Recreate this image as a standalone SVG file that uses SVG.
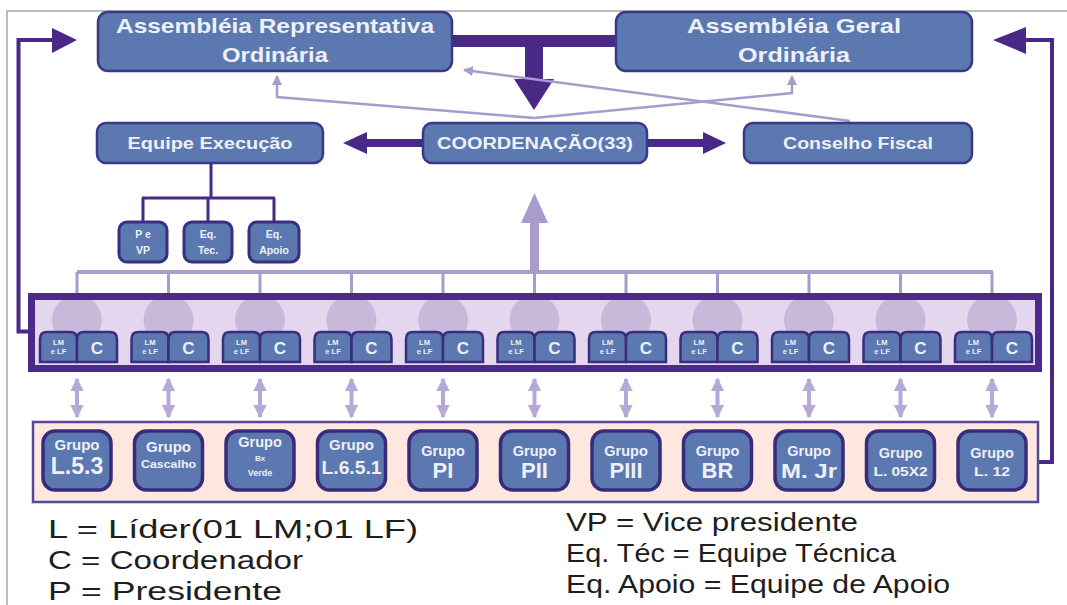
<svg xmlns="http://www.w3.org/2000/svg" width="1067" height="605" viewBox="0 0 1067 605">
<defs>
<style>
.box{fill:#5b78b0;stroke:#3b3886;stroke-width:2.5}
.sbox{fill:#5b78b0;stroke:#3a2f7e;stroke-width:3}
.gbox{fill:#5b78b0;stroke:#382c7a;stroke-width:3.5}
.ubox{fill:#5b78b0;stroke:#3a2d7c;stroke-width:2.5}
.t{font-family:"Liberation Sans",Arial,sans-serif;font-weight:bold;fill:#eef0f7;text-anchor:middle}
.lg{font-family:"Liberation Sans",Arial,sans-serif;font-size:25px;fill:#1e1e1e}
.dark{fill:#4a2886}
.dline{stroke:#4a2886;fill:none}
.light{stroke:#a99ccd;fill:none}
.lfill{fill:#a99ccd}
.circ{fill:#c8b9da}
</style>
<marker id="la" viewBox="0 0 10 10" refX="9" refY="5" markerWidth="4" markerHeight="4" orient="auto-start-reverse" markerUnits="strokeWidth">
<path d="M0 0 L10 5 L0 10 Z" fill="#a99ccd"/>
</marker>
<marker id="da" viewBox="0 0 10 10" refX="9" refY="5" markerWidth="3.4" markerHeight="3.4" orient="auto-start-reverse" markerUnits="strokeWidth">
<path d="M0 0 L10 5 L0 10 Z" fill="#b6a9d8"/>
</marker>
</defs>
<rect width="1067" height="605" fill="#ffffff"/>
<path d="M7 605 V11 H1067" stroke="#a8a8a8" stroke-width="1.5" fill="none"/>

<g id="connectors">
<rect x="450" y="35" width="170" height="12" class="dark"/>
<rect x="525" y="41" width="18" height="40" class="dark"/>
<polygon points="514,79 554,79 534,110" class="dark"/>
<path d="M534 118 L277 97 L277 76" class="light" stroke-width="2.5" marker-end="url(#la)"/>
<path d="M534 118 L792 93 L792 76" class="light" stroke-width="2.5" marker-end="url(#la)"/>
<path d="M850 121 L464 70" class="light" stroke-width="2.5" marker-end="url(#la)"/>
<path d="M423 143 H362" class="dline" stroke-width="8"/>
<polygon points="367,132 367,154 343,143" class="dark"/>
<path d="M647 143 H708" class="dline" stroke-width="8"/>
<polygon points="703,132 703,154 726,143" class="dark"/>
<path d="M211 163 V198 M142 198 H275 M143 198 V222 M208 198 V222 M274 198 V222" class="dline" stroke-width="3"/>
<rect x="530" y="218" width="9" height="54" class="lfill"/>
<polygon points="521,223 548,223 534.5,193" class="lfill"/>
<path d="M77 272 H993" class="light" stroke-width="4"/>
<path d="M77 272 V296 M168.5 272 V296 M260 272 V296 M351.5 272 V296 M443 272 V296 M534.5 272 V296 M626 272 V296 M717.5 272 V296 M809 272 V296 M900.5 272 V296 M992 272 V296" class="light" stroke-width="3"/>
<path d="M30 331.5 H18.5 V40 H56" class="dline" stroke-width="4"/>
<polygon points="52,28 52,53 77,40" class="dark"/>
<path d="M1038 462 H1052 V40 H1022" class="dline" stroke-width="4"/>
<polygon points="1026,27 1026,54 993,40" class="dark"/>
<g stroke="#b6a9d8" stroke-width="4" marker-start="url(#da)" marker-end="url(#da)">
<line x1="77" y1="379" x2="77" y2="417"/>
<line x1="168.5" y1="379" x2="168.5" y2="417"/>
<line x1="260" y1="379" x2="260" y2="417"/>
<line x1="351.5" y1="379" x2="351.5" y2="417"/>
<line x1="443" y1="379" x2="443" y2="417"/>
<line x1="534.5" y1="379" x2="534.5" y2="417"/>
<line x1="626" y1="379" x2="626" y2="417"/>
<line x1="717.5" y1="379" x2="717.5" y2="417"/>
<line x1="809" y1="379" x2="809" y2="417"/>
<line x1="900.5" y1="379" x2="900.5" y2="417"/>
<line x1="992" y1="379" x2="992" y2="417"/>
</g>
</g>

<g id="aro">
<rect x="98" y="12" width="354" height="59" rx="10" class="box"/>
<text x="275" y="33" class="t" font-size="21" textLength="318" lengthAdjust="spacingAndGlyphs">Assembléia Representativa</text>
<text x="275" y="62" class="t" font-size="21" textLength="106" lengthAdjust="spacingAndGlyphs">Ordinária</text>
</g>
<g id="ago">
<rect x="616" y="12" width="356" height="59" rx="10" class="box"/>
<text x="794" y="33" class="t" font-size="21" textLength="214" lengthAdjust="spacingAndGlyphs">Assembléia Geral</text>
<text x="794" y="62" class="t" font-size="21" textLength="112" lengthAdjust="spacingAndGlyphs">Ordinária</text>
</g>
<g id="equipe">
<rect x="97" y="123" width="226" height="40" rx="9" class="box"/>
<text x="210" y="149" class="t" font-size="16" textLength="165" lengthAdjust="spacingAndGlyphs">Equipe Execução</text>
</g>
<g id="coordenacao">
<rect x="423" y="123" width="224" height="40" rx="9" class="box"/>
<text x="535" y="149" class="t" font-size="16" textLength="196" lengthAdjust="spacingAndGlyphs">COORDENAÇÃO(33)</text>
</g>
<g id="conselho">
<rect x="744" y="123" width="228" height="40" rx="9" class="box"/>
<text x="858" y="149" class="t" font-size="16" textLength="150" lengthAdjust="spacingAndGlyphs">Conselho Fiscal</text>
</g>
<g id="pevp">
<rect x="119" y="222" width="48" height="40" rx="8" class="sbox"/>
<text x="143" y="238" class="t" font-size="10.5">P e</text>
<text x="143" y="254" class="t" font-size="10.5">VP</text>
</g>
<g id="eqtec">
<rect x="184" y="222" width="48" height="40" rx="8" class="sbox"/>
<text x="208" y="238" class="t" font-size="10.5">Eq.</text>
<text x="208" y="254" class="t" font-size="10.5">Tec.</text>
</g>
<g id="eqapoio">
<rect x="249" y="222" width="50" height="40" rx="8" class="sbox"/>
<text x="274" y="238" class="t" font-size="10.5">Eq.</text>
<text x="274" y="254" class="t" font-size="10.5">Apoio</text>
</g>

<g id="lideres">
<rect x="31.5" y="296.5" width="1007" height="72" fill="#e4d6ee"/>
<g class="circ">
<circle cx="77" cy="320" r="25"/><circle cx="168.5" cy="320" r="25"/><circle cx="260" cy="320" r="25"/><circle cx="351.5" cy="320" r="25"/><circle cx="443" cy="320" r="25"/><circle cx="534.5" cy="320" r="25"/><circle cx="626" cy="320" r="25"/><circle cx="717.5" cy="320" r="25"/><circle cx="809" cy="320" r="25"/><circle cx="900.5" cy="320" r="25"/><circle cx="992" cy="320" r="25"/>
</g>
<rect x="31.5" y="296.5" width="1007" height="72" fill="none" stroke="#4c2a8c" stroke-width="7"/>
</g>

<g id="u1" transform="translate(77 0)"><path d="M-37 362 V339 Q-37 332 -30 332 H-7 Q0 332 0 339 V362 Z" class="ubox"/><path d="M0 362 V339 Q0 332 7 332 H33 Q40 332 40 339 V362 Z" class="ubox"/><text x="-18.5" y="345" class="t" font-size="7.5">LM</text><text x="-18.5" y="354" class="t" font-size="7.5">e LF</text><text x="20" y="354" class="t" font-size="17">C</text></g>
<g id="u2" transform="translate(168.5 0)"><path d="M-37 362 V339 Q-37 332 -30 332 H-7 Q0 332 0 339 V362 Z" class="ubox"/><path d="M0 362 V339 Q0 332 7 332 H33 Q40 332 40 339 V362 Z" class="ubox"/><text x="-18.5" y="345" class="t" font-size="7.5">LM</text><text x="-18.5" y="354" class="t" font-size="7.5">e LF</text><text x="20" y="354" class="t" font-size="17">C</text></g>
<g id="u3" transform="translate(260 0)"><path d="M-37 362 V339 Q-37 332 -30 332 H-7 Q0 332 0 339 V362 Z" class="ubox"/><path d="M0 362 V339 Q0 332 7 332 H33 Q40 332 40 339 V362 Z" class="ubox"/><text x="-18.5" y="345" class="t" font-size="7.5">LM</text><text x="-18.5" y="354" class="t" font-size="7.5">e LF</text><text x="20" y="354" class="t" font-size="17">C</text></g>
<g id="u4" transform="translate(351.5 0)"><path d="M-37 362 V339 Q-37 332 -30 332 H-7 Q0 332 0 339 V362 Z" class="ubox"/><path d="M0 362 V339 Q0 332 7 332 H33 Q40 332 40 339 V362 Z" class="ubox"/><text x="-18.5" y="345" class="t" font-size="7.5">LM</text><text x="-18.5" y="354" class="t" font-size="7.5">e LF</text><text x="20" y="354" class="t" font-size="17">C</text></g>
<g id="u5" transform="translate(443 0)"><path d="M-37 362 V339 Q-37 332 -30 332 H-7 Q0 332 0 339 V362 Z" class="ubox"/><path d="M0 362 V339 Q0 332 7 332 H33 Q40 332 40 339 V362 Z" class="ubox"/><text x="-18.5" y="345" class="t" font-size="7.5">LM</text><text x="-18.5" y="354" class="t" font-size="7.5">e LF</text><text x="20" y="354" class="t" font-size="17">C</text></g>
<g id="u6" transform="translate(534.5 0)"><path d="M-37 362 V339 Q-37 332 -30 332 H-7 Q0 332 0 339 V362 Z" class="ubox"/><path d="M0 362 V339 Q0 332 7 332 H33 Q40 332 40 339 V362 Z" class="ubox"/><text x="-18.5" y="345" class="t" font-size="7.5">LM</text><text x="-18.5" y="354" class="t" font-size="7.5">e LF</text><text x="20" y="354" class="t" font-size="17">C</text></g>
<g id="u7" transform="translate(626 0)"><path d="M-37 362 V339 Q-37 332 -30 332 H-7 Q0 332 0 339 V362 Z" class="ubox"/><path d="M0 362 V339 Q0 332 7 332 H33 Q40 332 40 339 V362 Z" class="ubox"/><text x="-18.5" y="345" class="t" font-size="7.5">LM</text><text x="-18.5" y="354" class="t" font-size="7.5">e LF</text><text x="20" y="354" class="t" font-size="17">C</text></g>
<g id="u8" transform="translate(717.5 0)"><path d="M-37 362 V339 Q-37 332 -30 332 H-7 Q0 332 0 339 V362 Z" class="ubox"/><path d="M0 362 V339 Q0 332 7 332 H33 Q40 332 40 339 V362 Z" class="ubox"/><text x="-18.5" y="345" class="t" font-size="7.5">LM</text><text x="-18.5" y="354" class="t" font-size="7.5">e LF</text><text x="20" y="354" class="t" font-size="17">C</text></g>
<g id="u9" transform="translate(809 0)"><path d="M-37 362 V339 Q-37 332 -30 332 H-7 Q0 332 0 339 V362 Z" class="ubox"/><path d="M0 362 V339 Q0 332 7 332 H33 Q40 332 40 339 V362 Z" class="ubox"/><text x="-18.5" y="345" class="t" font-size="7.5">LM</text><text x="-18.5" y="354" class="t" font-size="7.5">e LF</text><text x="20" y="354" class="t" font-size="17">C</text></g>
<g id="u10" transform="translate(900.5 0)"><path d="M-37 362 V339 Q-37 332 -30 332 H-7 Q0 332 0 339 V362 Z" class="ubox"/><path d="M0 362 V339 Q0 332 7 332 H33 Q40 332 40 339 V362 Z" class="ubox"/><text x="-18.5" y="345" class="t" font-size="7.5">LM</text><text x="-18.5" y="354" class="t" font-size="7.5">e LF</text><text x="20" y="354" class="t" font-size="17">C</text></g>
<g id="u11" transform="translate(992 0)"><path d="M-37 362 V339 Q-37 332 -30 332 H-7 Q0 332 0 339 V362 Z" class="ubox"/><path d="M0 362 V339 Q0 332 7 332 H33 Q40 332 40 339 V362 Z" class="ubox"/><text x="-18.5" y="345" class="t" font-size="7.5">LM</text><text x="-18.5" y="354" class="t" font-size="7.5">e LF</text><text x="20" y="354" class="t" font-size="17">C</text></g>

<g id="grupos">
<rect x="33" y="422" width="1005" height="80" fill="#fde7de" stroke="#54489a" stroke-width="2.5"/>
</g>
<g id="g1"><rect x="43" y="431" width="68" height="59" rx="12" class="gbox"/><text x="77" y="450" class="t" font-size="15">Grupo</text><text x="77" y="474" class="t" font-size="23">L.5.3</text></g>
<g id="g2"><rect x="134.5" y="431" width="68" height="59" rx="12" class="gbox"/><text x="168.5" y="452" class="t" font-size="15">Grupo</text><text x="168.5" y="468" class="t" font-size="10.5" textLength="55" lengthAdjust="spacingAndGlyphs">Cascalho</text></g>
<g id="g3"><rect x="226" y="431" width="68" height="59" rx="12" class="gbox"/><text x="260" y="447" class="t" font-size="14.5">Grupo</text><text x="260" y="461" class="t" font-size="8">Bx</text><text x="260" y="476" class="t" font-size="9">Verde</text></g>
<g id="g4"><rect x="317.5" y="431" width="68" height="59" rx="12" class="gbox"/><text x="351.5" y="450" class="t" font-size="15">Grupo</text><text x="351.5" y="474" class="t" font-size="19" textLength="60" lengthAdjust="spacingAndGlyphs">L.6.5.1</text></g>
<g id="g5"><rect x="409" y="431" width="68" height="59" rx="12" class="gbox"/><text x="443" y="456" class="t" font-size="14.5">Grupo</text><text x="443" y="478" class="t" font-size="22">PI</text></g>
<g id="g6"><rect x="500.5" y="431" width="68" height="59" rx="12" class="gbox"/><text x="534.5" y="456" class="t" font-size="14.5">Grupo</text><text x="534.5" y="478" class="t" font-size="22">PII</text></g>
<g id="g7"><rect x="592" y="431" width="68" height="59" rx="12" class="gbox"/><text x="626" y="456" class="t" font-size="14.5">Grupo</text><text x="626" y="478" class="t" font-size="22">PIII</text></g>
<g id="g8"><rect x="683.5" y="431" width="68" height="59" rx="12" class="gbox"/><text x="717.5" y="456" class="t" font-size="14.5">Grupo</text><text x="717.5" y="478" class="t" font-size="22">BR</text></g>
<g id="g9"><rect x="775" y="431" width="68" height="59" rx="12" class="gbox"/><text x="809" y="456" class="t" font-size="14.5">Grupo</text><text x="809" y="478" class="t" font-size="21" textLength="56" lengthAdjust="spacingAndGlyphs">M. Jr</text></g>
<g id="g10"><rect x="866.5" y="431" width="68" height="59" rx="12" class="gbox"/><text x="900.5" y="458" class="t" font-size="14.5">Grupo</text><text x="900.5" y="476" class="t" font-size="12" textLength="54" lengthAdjust="spacingAndGlyphs">L. 05X2</text></g>
<g id="g11"><rect x="958" y="431" width="68" height="59" rx="12" class="gbox"/><text x="992" y="458" class="t" font-size="14.5">Grupo</text><text x="992" y="476" class="t" font-size="12.5" textLength="36" lengthAdjust="spacingAndGlyphs">L. 12</text></g>

<g id="legend">
<text x="48" y="538" class="lg" textLength="370" lengthAdjust="spacingAndGlyphs">L = Líder(01 LM;01 LF)</text>
<text x="48" y="569" class="lg" textLength="255" lengthAdjust="spacingAndGlyphs">C = Coordenador</text>
<text x="48" y="600" class="lg" textLength="234" lengthAdjust="spacingAndGlyphs">P = Presidente</text>
<text x="566" y="531" class="lg" textLength="292" lengthAdjust="spacingAndGlyphs">VP = Vice presidente</text>
<text x="566" y="562" class="lg" textLength="330" lengthAdjust="spacingAndGlyphs">Eq. Téc = Equipe Técnica</text>
<text x="566" y="593" class="lg" textLength="384" lengthAdjust="spacingAndGlyphs">Eq. Apoio = Equipe de Apoio</text>
</g>
</svg>
